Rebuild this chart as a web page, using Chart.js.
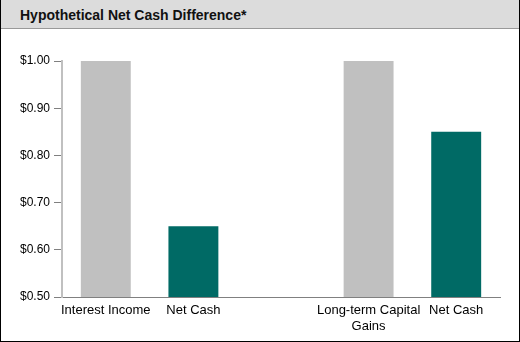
<!DOCTYPE html>
<html>
<head>
<meta charset="utf-8">
<script src="https://cdn.jsdelivr.net/npm/chart.js@4"></script>
<style>
  body { margin: 0; background: #fff; }
  #frame { width: 520px; height: 342px; box-sizing: border-box; border: 1px solid #000; border-top: none; }
  #title { height: 29px; background: #dcdcdc; border-bottom: 1px solid #999; box-sizing: border-box;
           font: bold 14px "Liberation Sans", Arial, sans-serif; color: #111; padding: 7px 0 0 19px; }
  #wrap { position: relative; width: 518px; height: 312px; }
</style>
</head>
<body>
<div id="frame">
  <div id="title">Hypothetical Net Cash Difference*</div>
  <div id="wrap"><canvas id="myChart"></canvas></div>
</div>
<script>
// chart data
const categories = ['Interest Income', 'Net Cash', '', ['Long-term Capital', 'Gains'], 'Net Cash'];
const values = [1.00, 0.65, null, 1.00, 0.85];
const barColors = ['#c0c0c0', '#006a65', '#ffffff', '#c0c0c0', '#006a65'];
const yTicks = [0.50, 0.60, 0.70, 0.80, 0.90, 1.00];

const ctx = document.getElementById('myChart').getContext('2d');
new Chart(ctx, {
    type: 'bar',
    data: {
        labels: categories,
        datasets: [{
            data: values,
            backgroundColor: barColors,
            borderWidth: 0,
            barPercentage: 0.57,
            categoryPercentage: 1
        }]
    },
    options: {
        responsive: true,
        maintainAspectRatio: false,
        animation: false,
        layout: { padding: { top: 32, right: 19, left: 0, bottom: 0 } },
        plugins: { legend: { display: false }, tooltip: { enabled: false } },
        scales: {
            x: {
                grid: { drawOnChartArea: false, drawTicks: false },
                border: { color: '#808080', width: 1 },
                ticks: {
                    color: '#000',
                    padding: 6,
                    maxRotation: 0,
                    autoSkip: false,
                    font: { family: 'Liberation Sans', size: 13 }
                },
                afterFit: function(scale) { scale.height = 44; }
            },
            y: {
                min: 0.5,
                max: 1.0,
                afterBuildTicks: function(scale) {
                    scale.ticks = yTicks.map(v => ({ value: v }));
                },
                grid: { drawOnChartArea: false, drawTicks: true, tickLength: 8, color: '#808080' },
                border: { color: '#c0c0c0', width: 2 },
                ticks: {
                    color: '#000',
                    padding: 4,
                    font: { family: 'Liberation Sans', size: 12 },
                    callback: function(value) { return '$' + Number(value).toFixed(2); }
                },
                afterFit: function(scale) { scale.width = 61; }
            }
        }
    }
});
</script>
</body>
</html>
